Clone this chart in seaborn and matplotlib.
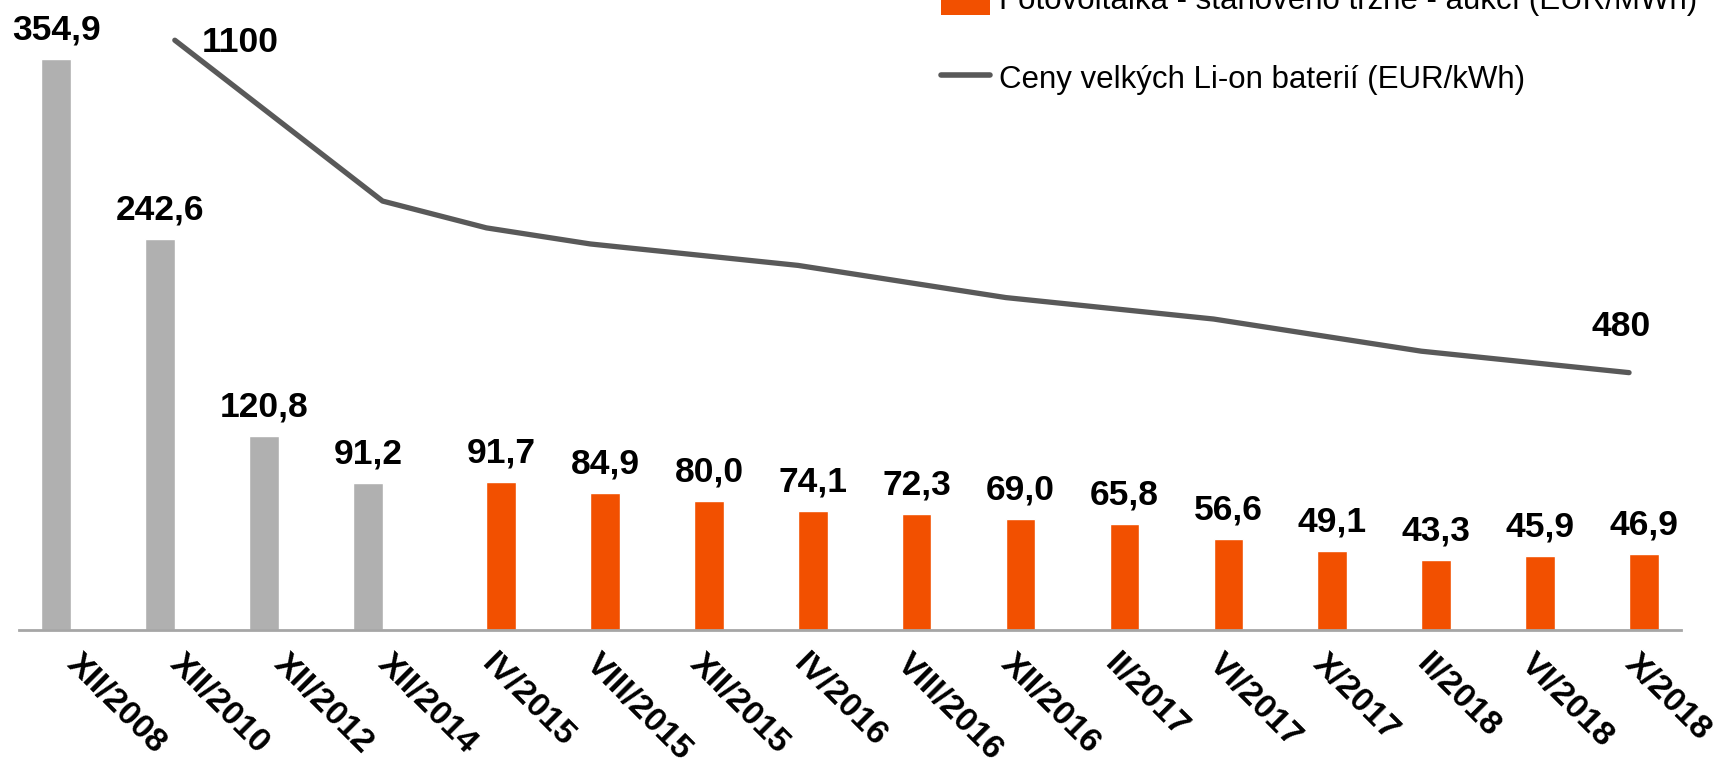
import matplotlib
matplotlib.use("Agg")
import matplotlib.pyplot as plt
import seaborn as sns
import pandas as pd
from matplotlib.patches import Patch
from matplotlib.lines import Line2D

# ---------------- data ----------------
categories = ["XII/2008", "XII/2010", "XII/2012", "XII/2014", "IV/2015", "VIII/2015",
              "XII/2015", "IV/2016", "VIII/2016", "XII/2016", "II/2017", "VI/2017",
              "X/2017", "II/2018", "VI/2018", "X/2018"]
grey_cats = ["XII/2008", "XII/2010", "XII/2012", "XII/2014"]
grey_vals = [354.9, 242.6, 120.8, 91.2]
orange_cats = ["IV/2015", "VIII/2015", "XII/2015", "IV/2016", "VIII/2016", "XII/2016",
               "II/2017", "VI/2017", "X/2017", "II/2018", "VI/2018", "X/2018"]
orange_vals = [91.7, 84.9, 80.0, 74.1, 72.3, 69.0, 65.8, 56.6, 49.1, 43.3, 45.9, 46.9]
battery_cats = ["XII/2010", "XII/2012", "XII/2014", "IV/2015", "VIII/2015", "XII/2015",
                "IV/2016", "VIII/2016", "XII/2016", "II/2017", "VI/2017", "X/2017",
                "II/2018", "VI/2018", "X/2018"]
battery_vals = [1100, 950, 800, 750, 720, 700, 680, 650, 620, 600, 580, 550, 520, 500, 480]

series_grey = "Fotovoltaika - stanoveno administrativně (EUR/MWh)"
series_orange = "Fotovoltaika - stanoveno tržně - aukcí (EUR/MWh)"
series_line = "Ceny velkých Li-on baterií (EUR/kWh)"

ORANGE = "#F25000"
GREY = "#B0B0B0"
LINE = "#595959"

df = pd.DataFrame({
    "cat": grey_cats + orange_cats,
    "val": grey_vals + orange_vals,
    "series": [series_grey] * len(grey_cats) + [series_orange] * len(orange_cats),
})

# ---------------- style ----------------
sns.set_theme(style="white")
plt.rcParams["font.family"] = ["Liberation Sans", "DejaVu Sans"]
plt.rcParams["text.color"] = "black"
plt.rcParams["xtick.color"] = "black"
plt.rcParams["xtick.labelcolor"] = "black"

W, H = 1714, 767
fig = plt.figure(figsize=(W / 100, H / 100), dpi=100)
base_y = 630
ax = fig.add_axes([19 / W, (H - base_y) / H, 1662 / W, base_y / H])

sns.barplot(data=df, x="cat", y="val", hue="series", order=categories,
            hue_order=[series_grey, series_orange],
            palette={series_grey: GREY, series_orange: ORANGE},
            dodge=True, width=0.568, ax=ax, legend=False, saturation=1,
            errorbar=None)
ax.set_xlim(-0.5, len(categories) - 0.5)
ax.set_ylim(0, 391.3)

for cont in ax.containers:
    labels = [f"{v:.1f}".replace(".", ",") if v == v else "" for v in cont.datavalues]
    ax.bar_label(cont, labels=labels, padding=9, fontsize=25.5, fontweight="bold",
                 color="black")

ax.set_xlabel("")
ax.set_ylabel("")
ax.set_yticks([])
for s in ["top", "left", "right"]:
    ax.spines[s].set_visible(False)
ax.spines["bottom"].set_color("#A6A6A6")
ax.spines["bottom"].set_linewidth(2)
ax.tick_params(axis="x", length=0, pad=21, labelcolor="black")
ax.set_xticks(range(len(categories)))
ax.set_xticklabels(categories, rotation=-45, ha="left", va="center",
                   rotation_mode="anchor", fontsize=24.5, fontweight="bold",
                   color="black")

# ---------------- secondary axis line ----------------
ax2 = ax.twinx()
xpos = [categories.index(c) for c in battery_cats]
sns.lineplot(x=xpos, y=battery_vals, ax=ax2, color=LINE, linewidth=3.8,
             solid_capstyle="round")
ax2.set_ylim(0, 1175)
ax2.set_xlim(-0.5, len(categories) - 0.5)
ax2.set_yticks([])
ax2.set_ylabel("")
for s in ax2.spines.values():
    s.set_visible(False)

ax2.annotate(f"{battery_vals[0]}", (xpos[0], battery_vals[0]),
             xytext=(27, -2), textcoords="offset pixels", ha="left", va="center",
             fontsize=25.5, fontweight="bold", color="black")
ax2.annotate(f"{battery_vals[-1]}", (xpos[-1], battery_vals[-1]),
             xytext=(-8, 46), textcoords="offset pixels", ha="center", va="center",
             fontsize=25.5, fontweight="bold", color="black")

# ---------------- legend (partly cut at top, as in reference) ----------------
handles = [Patch(facecolor=ORANGE, edgecolor="none"),
           Line2D([0], [0], color=LINE, lw=4, solid_capstyle="round")]
leg = fig.legend(handles, [series_orange, series_line], loc="upper left",
                 bbox_to_anchor=(928 / W, 1 + 30 / H), frameon=False, fontsize=22.5,
                 handlelength=1.57, handleheight=1.2, handletextpad=0.3,
                 labelspacing=1.45, borderaxespad=0)
for t in leg.get_texts():
    t.set_color("black")

fig.savefig("out.png", dpi=100)
